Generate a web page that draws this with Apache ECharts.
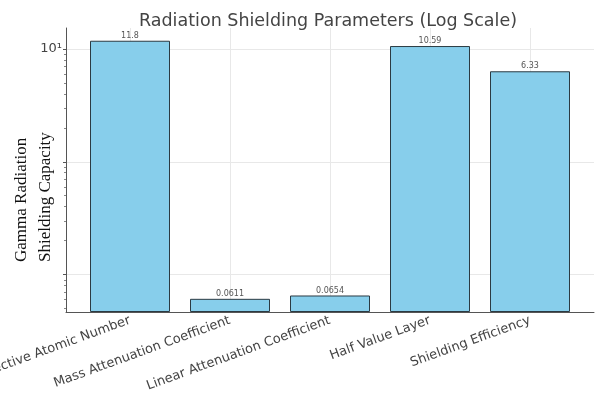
<!DOCTYPE html>
<html>
<head>
<meta charset="utf-8">
<script src="https://cdn.jsdelivr.net/npm/echarts@6/dist/echarts.min.js"></script>
<style>
  html, body { margin: 0; padding: 0; background: #fff; }
  #chart { width: 601px; height: 399px; }
</style>
</head>
<body>
<div id="chart"></div>
<script>
// Shielding parameters, plotted on a logarithmic value axis
const categories = [
  'Effective Atomic Number',
  'Mass Attenuation Coefficient',
  'Linear Attenuation Coefficient',
  'Half Value Layer',
  'Shielding Efficiency'
];
const values = [11.8, 0.0611, 0.0654, 10.59, 6.33];
const valueLabels = ['11.8', '0.0611', '0.0654', '10.59', '6.33'];

// Axis extents and tick positions
const yMin = 0.0467;
const yMax = 15.3;
const majorTicks = [0.1, 1, 10];
const minorTicks = [0.05, 0.06, 0.07, 0.08, 0.09,
                    0.2, 0.3, 0.4, 0.5, 0.6, 0.7, 0.8, 0.9,
                    2, 3, 4, 5, 6, 7, 8, 9];
const categoryPositions = categories.map((_, i) => i);

const chart = echarts.init(document.getElementById('chart'), null, { renderer: 'canvas' });

const axisColor = '#555';
const gridColor = '#e8e8e8';
const textColor = '#444';

chart.setOption({
  animation: false,
  backgroundColor: '#fff',
  title: {
    text: 'Radiation Shielding Parameters (Log Scale)',
    left: 323,
    textAlign: 'center',
    top: 7,
    textStyle: { fontFamily: 'DejaVu Sans', fontSize: 17.5, fontWeight: 'normal', color: textColor }
  },
  grid: { left: 66, right: 7, top: 28, bottom: 87, containLabel: false, outerBoundsMode: 'none' },
  xAxis: {
    type: 'value',
    min: -0.64,
    max: 4.64,
    axisLine: { show: true, onZero: false, lineStyle: { color: axisColor, width: 1 } },
    axisTick: { show: true, inside: true, length: 3, customValues: categoryPositions, lineStyle: { color: axisColor } },
    splitLine: { show: true, lineStyle: { color: gridColor, width: 1 } },
    axisLabel: {
      customValues: categoryPositions,
      rotate: 20,
      margin: 8,
      fontFamily: 'DejaVu Sans',
      fontSize: 13,
      color: textColor,
      formatter: v => categories[Math.round(v)] || ''
    }
  },
  yAxis: [
    {
      type: 'log',
      logBase: 10,
      min: yMin,
      max: yMax,
      startValue: yMin,
      axisLine: { show: true, onZero: false, lineStyle: { color: axisColor, width: 1 } },
      axisTick: { show: true, length: 3, customValues: majorTicks, lineStyle: { color: axisColor } },
      splitLine: { show: true, lineStyle: { color: gridColor, width: 1 } },
      axisLabel: {
        customValues: majorTicks,
        margin: 4,
        fontFamily: 'DejaVu Sans',
        fontSize: 13,
        color: textColor,
        formatter: v => (Math.abs(v - 10) < 1e-9 ? '10\u00B9' : '')
      }
    },
    {
      type: 'log',
      logBase: 10,
      min: yMin,
      max: yMax,
      position: 'left',
      axisLine: { show: false, onZero: false },
      axisTick: { show: true, length: 2, customValues: minorTicks, lineStyle: { color: '#888' } },
      splitLine: { show: false },
      axisLabel: { show: false }
    }
  ],
  graphic: [
    {
      type: 'text',
      x: 34,
      y: 262,
      rotation: Math.PI / 2,
      style: {
        text: 'Gamma Radiation\nShielding Capacity',
        fontFamily: 'Liberation Serif',
        fontSize: 17,
        lineHeight: 24,
        fill: '#111',
        align: 'left',
        verticalAlign: 'middle'
      }
    }
  ],
  series: [
    {
      type: 'bar',
      yAxisIndex: 0,
      barWidth: 80,
      data: values.map((v, i) => [categoryPositions[i], v]),
      itemStyle: { color: '#87CEEB', borderColor: '#2b3a42', borderWidth: 1 },
      label: {
        show: true,
        position: 'top',
        distance: 1,
        fontFamily: 'DejaVu Sans',
        fontSize: 8,
        color: '#555',
        formatter: p => valueLabels[p.dataIndex]
      }
    }
  ]
});
</script>
</body>
</html>
